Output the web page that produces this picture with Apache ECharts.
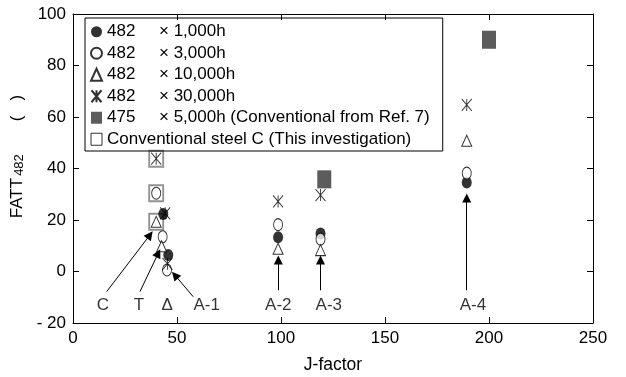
<!DOCTYPE html>
<html>
<head>
<meta charset="utf-8">
<script src="https://cdn.jsdelivr.net/npm/echarts@6/dist/echarts.min.js"></script>
<style>html,body{margin:0;padding:0;background:#fff}#c{width:626px;height:377px}</style>
</head>
<body>
<div id="c"></div>
<script>
// ---- data (J-factor, FATT482) ----
const h1000  = [[43.4, 22.3], [45.8, 6.4], [98.6, 13.3], [119, 14.8], [189.3, 34.6]];
const h3000  = [[40, 30.4], [43.1, 13.5], [45.2, 0.6], [98.6, 18.2], [119, 12.6], [189.3, 38.2]];
const h10000 = [[40, 19.3], [42.6, 9.8], [98.6, 8.8], [119, 8.3], [189.3, 50.8]];
const h30000 = [[40, 43.8], [44.3, 22.6], [45.4, 3], [98.6, 27.2], [119, 29.7], [189.3, 64.7]];
const ref475 = [[120.8, 35.8], [200, 90]];
const steelC = [[40, 43.8], [40, 30.4], [40, 19.3]];
const seriesNames = ['482 ×1,000h', '482 ×3,000h', '482 ×10,000h', '482 ×30,000h',
  '475 ×5,000h (Conventional from Ref. 7)', 'Conventional steel C (This investigation)'];
const noteLabels = [[14.4, -13, 'C'], [31.7, -13, 'T'], [45.3, -13, 'Δ'], [64.3, -13, 'A-1'],
  [98.7, -13, 'A-2'], [123, -13, 'A-3'], [192.3, -13, 'A-4']];
const arrows = [
  [[16.2, -7.8], [37, 14.2]],
  [[32.2, -7.8], [41, 7.1]],
  [[57.8, -9.8], [49, -1.4]],
  [[98.7, -7.3], [98.7, 4.5]],
  [[119, -7.3], [119, 4.5]],
  [[189.3, -7.3], [189.3, 28.5]]
];
const xTicks = {min: 0, max: 250, interval: 50};
const yTicks = {min: -20, max: 100, interval: 20};

const FONT = 'Liberation Sans';
const starPath = 'path://M0,0L10,12M10,0L0,12M5,0L5,12';

const chart = echarts.init(document.getElementById('c'), null, {renderer: 'canvas'});
const axisCommon = {
  axisLine: {show: true, onZero: false, lineStyle: {color: '#000', width: 1}},
  axisTick: {show: true, inside: true, length: 6, lineStyle: {color: '#000'}},
  splitLine: {show: false}
};
chart.setOption({
  animation: false,
  textStyle: {fontFamily: FONT},
  grid: {left: 73, right: 33, top: 14, bottom: 54, containLabel: false, outerBoundsMode: 'none'},
  legend: {
    orient: 'vertical', left: 85, top: 18,
    data: [
      {name: seriesNames[0]}, {name: seriesNames[1]}, {name: seriesNames[2]}, {name: seriesNames[3]},
      {name: seriesNames[4], itemStyle: {color: '#333'}},
      {name: seriesNames[5], icon: 'rect', itemStyle: {color: '#fff', borderColor: '#000', borderWidth: 1}}
    ],
    itemWidth: 11, itemHeight: 12, itemGap: 0,
    padding: [3, 13, 1, 5],
    borderColor: '#000', borderWidth: 1,
    selectedMode: false,
    textStyle: {
      fontFamily: FONT, fontSize: 17, color: '#000', lineHeight: 21.5,
      rich: {a: {width: 52, fontSize: 17, fontFamily: FONT, lineHeight: 21.5}, b: {fontSize: 17, fontFamily: FONT, lineHeight: 21.5}}
    },
    formatter: function (n) {
      const i = n.indexOf(' ×');
      if (i < 0) return n;
      return '{a|' + n.slice(0, i) + '}{b|' + '× ' + n.slice(i + 2) + '}';
    }
  },
  xAxis: [
    Object.assign({type: 'value', position: 'bottom', min: xTicks.min, max: xTicks.max, interval: xTicks.interval,
      name: 'J-factor', nameLocation: 'middle', nameGap: 33,
      nameTextStyle: {fontFamily: FONT, fontSize: 17.5, color: '#000'},
      axisLabel: {fontFamily: FONT, fontSize: 17, color: '#000', margin: 7}}, axisCommon),
    Object.assign({type: 'value', position: 'top', min: xTicks.min, max: xTicks.max, interval: xTicks.interval,
      axisLabel: {show: false}}, axisCommon)
  ],
  yAxis: [
    Object.assign({type: 'value', position: 'left', min: yTicks.min, max: yTicks.max, interval: yTicks.interval,
      name: '{n|FATT}{s|482}{g| }{n|(}{h| }{n|)}', nameLocation: 'middle', nameRotate: 90, nameGap: 45,
      nameTextStyle: {color: '#000', padding: [0, 0, 0, 24],
        rich: {n: {fontFamily: FONT, fontSize: 17, color: '#000', lineHeight: 20, verticalAlign: 'bottom'},
               s: {fontFamily: FONT, fontSize: 13, color: '#000', lineHeight: 20, verticalAlign: 'bottom', padding: [0, 0, 0, 2]},
               g: {width: 33, fontSize: 17, lineHeight: 20},
               h: {width: 15, fontSize: 17, lineHeight: 20}}},
      axisLabel: {fontFamily: FONT, fontSize: 17, color: '#000', margin: 7,
        formatter: v => v < 0 ? '- ' + Math.abs(v) : String(v)}}, axisCommon),
    Object.assign({type: 'value', position: 'right', min: yTicks.min, max: yTicks.max, interval: yTicks.interval,
      axisLabel: {show: false}}, axisCommon)
  ],
  series: [
    {name: seriesNames[5], type: 'scatter', data: steelC, symbol: 'rect', symbolSize: [14, 16],
      itemStyle: {color: '#fff', borderColor: '#777', borderWidth: 2}, z: 2},
    {name: seriesNames[4], type: 'scatter', data: ref475, symbol: 'rect', symbolSize: [14, 18],
      itemStyle: {color: '#333', borderColor: '#333', borderWidth: 0}, z: 3},
    {name: seriesNames[0], type: 'scatter', data: h1000, symbol: 'circle', symbolSize: [10, 12],
      itemStyle: {color: '#000', borderColor: '#000', borderWidth: 0}, z: 4},
    {name: seriesNames[1], type: 'scatter', data: h3000, symbol: 'circle', symbolSize: [9, 12],
      itemStyle: {color: '#fff', borderColor: '#000', borderWidth: 1}, z: 4},
    {name: seriesNames[2], type: 'scatter', data: h10000, symbol: 'triangle', symbolSize: [10, 11],
      itemStyle: {color: '#fff', borderColor: '#000', borderWidth: 1}, z: 4},
    {name: seriesNames[3], type: 'scatter', data: h30000, symbol: starPath, symbolSize: [10, 12],
      itemStyle: {color: 'rgba(0,0,0,0)', borderColor: '#000', borderWidth: 1}, z: 5},
    {name: 'notes', type: 'scatter', data: noteLabels, symbolSize: 1, z: 6,
      itemStyle: {color: 'rgba(0,0,0,0)'},
      label: {show: true, position: 'inside', formatter: p => p.value[2],
        fontFamily: FONT, fontSize: 17, color: '#000', textBorderWidth: 0, textBorderColor: 'transparent'},
      markLine: {
        silent: true, animation: false,
        symbol: ['none', 'triangle'], symbolSize: 9,
        label: {show: false},
        lineStyle: {color: '#000', width: 1, type: 'solid'},
        itemStyle: {color: '#000'},
        data: arrows.map(a => [{coord: a[0]}, {coord: a[1]}])
      }}
  ]
});
</script>
</body>
</html>
